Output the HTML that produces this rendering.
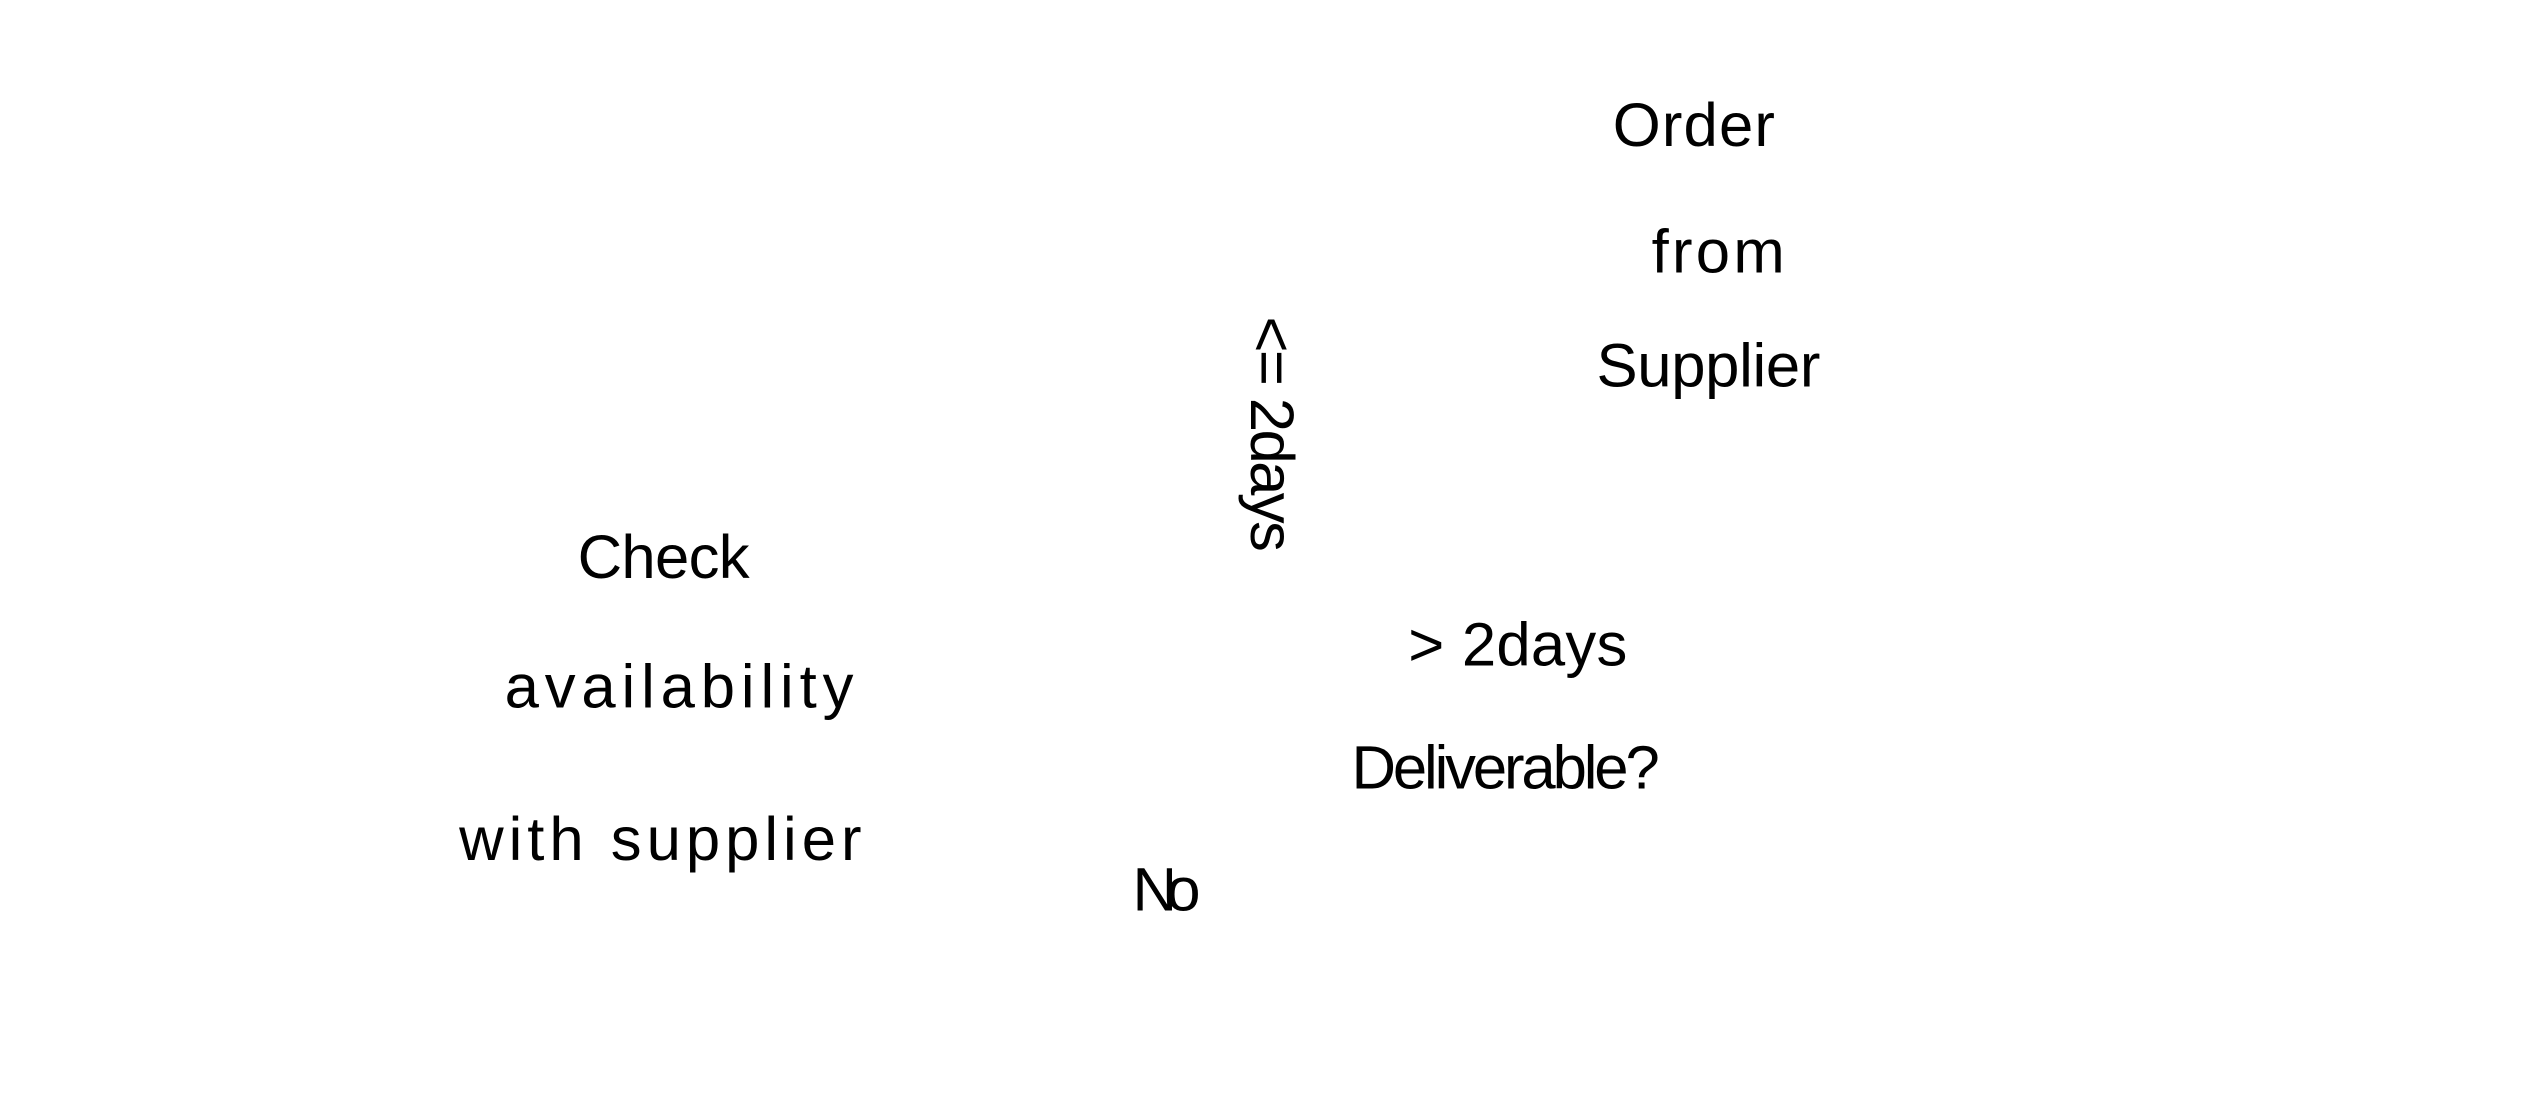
<!DOCTYPE html>
<html><head><meta charset="utf-8"><style>html,body{margin:0;padding:0;background:#fff;overflow:hidden}svg{display:block}</style></head>
<body>
<svg width="2531" height="1102" viewBox="0 0 1560 679" xmlns="http://www.w3.org/2000/svg" font-family="Liberation Sans, sans-serif" fill="#000">
<rect width="1560" height="679" fill="#fff"/>
<g font-size="38">
<text x="994" y="90" textLength="100">Order</text>
<text x="1018" y="168" textLength="82">from</text>
<text x="984" y="238" textLength="138">Supplier</text>
<text x="356" y="356" textLength="106">Check</text>
<text x="311" y="436" textLength="215">availability</text>
<text x="283" y="530" textLength="248">with supplier</text>
<text x="868" y="410" textLength="135">&gt; 2days</text>
<text x="833" y="486" textLength="190">Deliverable?</text>
<text x="698" y="561" textLength="42">No</text>
<text transform="translate(771,195) rotate(90)" x="0" y="0" textLength="145">&lt;= 2days</text>
</g>
</svg>
</body></html>
